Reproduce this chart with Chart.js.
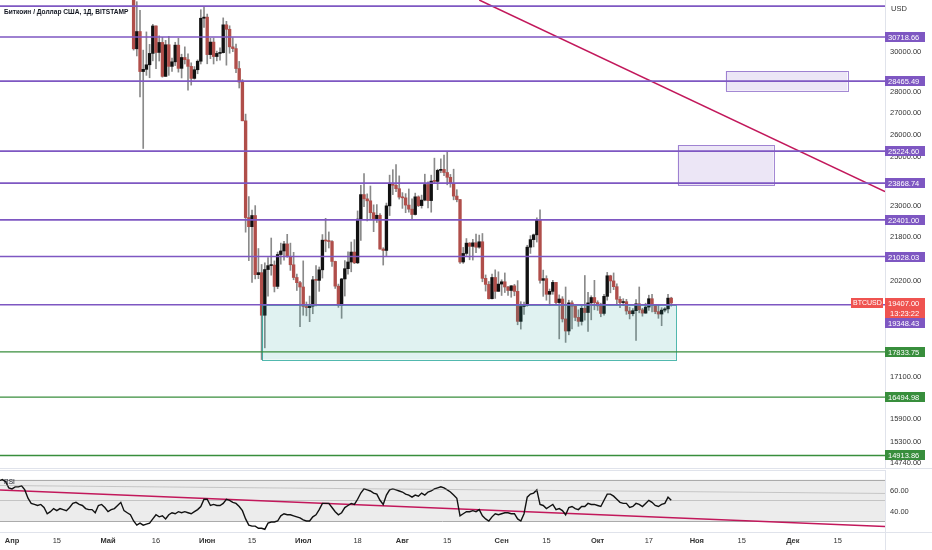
<!DOCTYPE html>
<html>
<head>
<meta charset="utf-8">
<script src="https://cdn.jsdelivr.net/npm/chart.js@4.4.0/dist/chart.umd.min.js"></script>
<style>
    html, body { margin: 0; padding: 0; background: #fff; width: 932px; height: 550px; overflow: hidden; }
    #wrap { position: relative; width: 932px; height: 550px; }
    canvas { position: absolute; left: 0; }
    #priceChart { top: 0; }
    #rsiChart { top: 470px; }
</style>
</head>
<body>
<div id="wrap">
    <canvas id="priceChart" width="932" height="469" style="width:932px;height:469px"></canvas>
    <canvas id="rsiChart" width="932" height="80" style="width:932px;height:80px"></canvas>
</div>
<script>
// Дни считаются от 1 апреля 2022 (день 0)
const title = 'Биткоин / Доллар США, 1Д, BITSTAMP';
const firstCandleDay = 38; // 9 мая

const opens = [
    34060,30100,31010,28940,29050,29280,29860,31310,29910,30430,
    28700,30310,29200,29430,30290,29100,29650,29540,29200,28600,
    29030,29460,31730,31790,29800,30450,29700,29860,29900,31370,
    31130,30200,30110,29090,28420,26580,22490,22140,22570,20380,
    20450,19000,20560,20700,20720,19970,21100,21230,21490,21030,
    20730,20280,20100,19950,19290,19250,19300,20200,20180,20550,
    21630,21600,21580,20850,19980,19330,20230,20590,20830,21190,
    20800,22430,23400,23230,23150,22680,22450,22580,21300,21250,
    22950,23850,23780,23640,23300,23270,22980,22820,22610,23310,
    22960,23180,23810,23160,23950,23940,24400,24440,24310,24110,
    23860,23340,23200,20830,21140,21520,21400,21530,21370,21570,
    20250,20040,19550,20280,19800,20050,20130,19950,19830,19990,
    19800,18800,19290,19320,21370,21650,21830,22400,20180,20240,
    19700,19800,20110,19420,19540,18880,18490,19410,19300,18930,
    18800,19230,19090,19410,19590,19420,19310,19060,19630,20340,
    20160,19960,19530,19420,19450,19140,19050,19150,19380,19180,
    19070,19270,19550,19330,19120,19040,19170,19210,19570
];
const highs = [
    34240,32650,32160,30030,30990,30330,31400,31320,30780,30700,
    30540,30750,29620,30440,30650,29820,30200,29840,29380,29190,
    29530,32200,32390,31960,30650,30660,29980,30150,31750,31560,
    31320,30680,30340,29450,28540,26890,23320,22780,22960,21320,
    20740,20800,20990,21710,20870,21190,21520,21590,21850,21520,
    21180,20400,20150,20870,19440,19640,20320,20700,20650,21840,
    22460,21940,21610,20860,20050,20250,20880,21200,21560,21650,
    22750,23780,24260,23430,23750,22990,23000,22650,21350,23060,
    24200,24430,24650,24170,23480,23440,23630,23230,23460,23350,
    23380,24240,23920,24200,24920,24450,24890,25050,25210,24230,
    24450,23600,23210,21360,21690,21540,21660,21860,21820,21880,
    20370,20140,20400,20550,20480,20200,20440,19970,20000,20040,
    20170,19450,19440,21440,21800,21860,22480,22790,20540,20340,
    19880,20180,20110,19680,19620,19950,19500,19480,19310,19180,
    19310,20350,19770,19650,20180,19480,19400,19700,20460,20360,
    20440,20060,19620,19550,19530,19270,19220,19520,19950,19230,
    19400,19670,19700,19340,19350,19250,19250,19700,19600
];
const lows = [
    30030,29730,27700,25340,28750,28630,29480,29090,29470,28660,
    28700,28750,28950,29240,28910,28620,29320,28020,28270,28560,
    28830,29320,31230,29330,29590,29320,29480,29520,29880,29260,
    29870,29950,28880,28130,26580,21930,20880,20110,20230,20240,
    17600,17960,19640,20360,19780,19890,20750,20900,21000,20530,
    20200,19830,18630,19000,18980,18790,19050,19310,19800,20260,
    21200,21340,20670,19900,19260,18900,19640,20400,20480,20770,
    20770,21620,22920,22360,22450,21950,22300,21300,20720,21060,
    22570,23400,23520,23220,22850,22680,22700,22430,22590,22920,
    22860,23150,22870,22700,23860,23600,24300,24180,23800,23700,
    23190,23110,20780,20780,21070,20910,20900,21170,21330,20130,
    19810,19540,19540,19560,19800,19660,19760,19660,19600,19650,
    18690,18550,19030,19300,21140,21380,21560,20080,19630,19500,
    19330,19700,19380,18240,18780,18130,18370,18560,18820,18640,
    18680,18840,18480,18850,19180,19160,18950,19000,19500,19750,
    19860,19340,19250,19320,19030,18880,18980,18190,19080,18970,
    19060,19160,19110,19050,18900,18660,19110,19080,19300
];
const closes = [
    30100,31010,28940,29050,29280,29860,31310,29910,30430,28700,
    30310,29200,29430,30290,29100,29650,29540,29200,28600,29030,
    29460,31730,31790,29800,30450,29700,29860,29900,31370,31130,
    30200,30110,29090,28420,26580,22490,22140,22570,20380,20450,
    19000,20560,20700,20720,19970,21100,21230,21490,21030,20730,
    20280,20100,19950,19290,19250,19300,20200,20180,20550,21630,
    21600,21580,20850,19980,19330,20230,20590,20830,21190,20800,
    22430,23400,23230,23150,22680,22450,22580,21300,21250,22950,
    23850,23780,23640,23300,23270,22980,22820,22610,23310,22960,
    23180,23810,23160,23950,23940,24400,24440,24310,24110,23860,
    23340,23200,20830,21140,21520,21400,21530,21370,21570,20250,
    20040,19550,20280,19800,20050,20130,19950,19830,19990,19800,
    18800,19290,19320,21370,21650,21830,22400,20180,20240,19700,
    19800,20110,19420,19540,18880,18490,19410,19300,18930,18800,
    19230,19090,19410,19590,19420,19310,19060,19630,20340,20160,
    19960,19530,19420,19450,19140,19050,19150,19380,19180,19070,
    19270,19550,19330,19120,19040,19170,19210,19570,19407
];

// RSI(14), с 28 марта (день -4)
const rsiFirstDay = -4;
const rsiValues = [
    69,70,68,62,
    61,63,63,64,60,52,47,46,45,46,
    43,37,39,42,40,42,41,40,43,47,
    48,46,45,42,41,41,38,45,46,43,
    39,41,42,45,48,40,38,36,30,26,
    28,26,27,28,32,36,34,35,32,36,
    38,37,39,38,39,38,37,39,41,44,
    51,51,45,46,45,45,47,51,50,48,
    47,44,40,32,26,25,25,23,23,22,
    28,29,29,30,35,37,36,36,35,34,
    33,31,30,30,34,36,41,47,47,47,
    43,39,36,38,43,45,47,46,51,57,
    61,60,59,57,56,50,46,55,60,61,
    60,59,58,56,55,53,55,54,57,55,
    58,59,61,62,63,62,60,58,55,52,
    35,37,39,39,40,39,41,35,32,30,
    34,37,36,37,38,38,37,37,32,30,
    37,53,56,57,60,46,45,42,44,46,
    41,42,40,36,43,44,42,41,44,44,
    47,46,46,45,44,50,56,56,54,51,
    48,47,47,43,44,47,46,44,47,50,
    48,45,44,46,47,53,50
];

const purpleLevels = [30718.66, 28465.49, 25224.60, 23868.74, 22401.00, 21028.03, 19348.43];
const topLevel = 32400; // линия без подписи у верхнего края
const greenLevels = [17833.75, 16494.98, 14913.86];
const priceTicks = [30000, 28000, 27000, 26000, 25000, 24000, 23000, 21800, 20200, 17100, 15900, 15300, 14740];
const lastPrice = 19407.00;
const lastTime = '13:23:22';

// прямоугольники: дни и цены
const boxDays = [[78, 207.5], [223, 261], [208, 238]];
const boxPrices = [[19348.43, 17600], [28966, 28000], [25480, 23786]];

// наклонные линии
const priceTrendDays = [146, 272.8];
const priceTrendValues = [32745, 23518];
const rsiTrendDays = [-3.75, 272.8];
const rsiTrendValues = [60, 24.7];
const rsiFaintValues = [64.3, 56.6];

const rsiBands = [70, 50, 30];
const rsiTicks = [60, 40];

const dateTicks = [0, 14, 30, 45, 61, 75, 91, 108, 122, 136, 153, 167, 183, 199, 214, 228, 244, 258];
const dateLabels = ['Апр', '15', 'Май', '16', 'Июн', '15', 'Июл', '18', 'Авг', '15', 'Сен', '15', 'Окт', '17', 'Ноя', '15', 'Дек', '15'];
const monthTicks = [0, 30, 61, 91, 122, 153, 183, 214, 244];

const xMin = -3.75, xMax = 272.8;
const AXIS_W = 47;
const FONT = '"Liberation Sans", Arial, sans-serif';
const PURPLE = '#7e57c2';
const GREEN = '#388e3c';
const RED_LINE = '#c2185b';

// Свечи
const candleDays = opens.map((o, i) => firstCandleDay + i);
const bodyColors = opens.map((o, i) => closes[i] >= o ? '#111' : '#b04e4a');

function labelBox(ctx, y, text, bg) {
    ctx.fillStyle = bg;
    ctx.fillRect(885, Math.round(y) - 5, 40, 10);
    ctx.fillStyle = '#fff';
    ctx.fillText(text, 888, Math.round(y) + 0.5);
}

const priceDrawings = {
    id: 'priceDrawings',
    afterDatasetsDraw(chart) {
        const { ctx, chartArea: a, scales: { x, y } } = chart;
        ctx.save();
        ctx.beginPath();
        ctx.rect(a.left, a.top, a.width, a.height);
        ctx.clip();

        boxDays.forEach((d, i) => {
            const x1 = x.getPixelForValue(d[0]), x2 = x.getPixelForValue(d[1]);
            const y1 = y.getPixelForValue(boxPrices[i][0]), y2 = y.getPixelForValue(boxPrices[i][1]);
            const teal = i === 0;
            ctx.fillStyle = teal ? 'rgba(38,166,154,0.14)' : 'rgba(126,87,194,0.15)';
            ctx.strokeStyle = teal ? 'rgba(38,166,154,0.8)' : 'rgba(126,87,194,0.7)';
            ctx.lineWidth = 1;
            ctx.fillRect(x1, y1, x2 - x1, y2 - y1);
            ctx.strokeRect(Math.round(x1) + 0.5, Math.round(y1) + 0.5, Math.round(x2 - x1), Math.round(y2 - y1));
        });

        ctx.lineWidth = 1.6;
        ctx.strokeStyle = PURPLE;
        [topLevel, ...purpleLevels].forEach(p => {
            const py = y.getPixelForValue(p);
            ctx.beginPath(); ctx.moveTo(a.left, py); ctx.lineTo(a.right, py); ctx.stroke();
        });
        ctx.lineWidth = 1.3;
        ctx.strokeStyle = GREEN;
        greenLevels.forEach(p => {
            const py = y.getPixelForValue(p);
            ctx.beginPath(); ctx.moveTo(a.left, py); ctx.lineTo(a.right, py); ctx.stroke();
        });
        ctx.restore();
    },
    afterDraw(chart) {
        const { ctx, chartArea: a, scales: { y } } = chart;
        ctx.save();
        // разделитель шкалы цен
        ctx.strokeStyle = '#e0e3eb';
        ctx.lineWidth = 1;
        ctx.beginPath(); ctx.moveTo(a.right + 0.5, 0); ctx.lineTo(a.right + 0.5, chart.height); ctx.stroke();
        ctx.beginPath(); ctx.moveTo(0, chart.height - 0.5); ctx.lineTo(chart.width, chart.height - 0.5); ctx.stroke();

        ctx.font = '7.5px ' + FONT;
        ctx.textBaseline = 'middle';
        ctx.textAlign = 'left';
        ctx.fillStyle = '#333';
        priceTicks.forEach(t => ctx.fillText(t.toFixed(2), 890, Math.round(y.getPixelForValue(t)) + 0.5));
        ctx.fillText('USD', 891, 9);

        purpleLevels.forEach(p => {
            if (p === purpleLevels[purpleLevels.length - 1]) return;
            labelBox(ctx, y.getPixelForValue(p), p.toFixed(2), PURPLE);
        });
        greenLevels.forEach(p => labelBox(ctx, y.getPixelForValue(p), p.toFixed(2), GREEN));

        // текущая цена
        const py = Math.round(y.getPixelForValue(lastPrice));
        ctx.fillStyle = '#ef5350';
        ctx.fillRect(885, py - 5, 40, 20);
        ctx.fillRect(851, py - 5, 32, 10);
        ctx.fillStyle = '#fff';
        ctx.fillText(lastPrice.toFixed(2), 888, py + 0.5);
        ctx.fillText(lastTime, 890, py + 10.5);
        ctx.font = '7px ' + FONT;
        ctx.fillText('BTCUSD', 853, py + 0.5);
        ctx.font = '7.5px ' + FONT;
        // подпись уровня под ценой
        const low = purpleLevels[purpleLevels.length - 1];
        labelBox(ctx, py + 20, low.toFixed(2), PURPLE);

        ctx.font = 'bold 6.6px ' + FONT;
        ctx.fillStyle = '#131722';
        ctx.fillText(title, 4, 12);
        ctx.restore();
    }
};

new Chart(document.getElementById('priceChart').getContext('2d'), {
    type: 'bar',
    data: {
        datasets: [{
            type: 'line',
            data: priceTrendDays.map((d, i) => ({ x: d, y: priceTrendValues[i] })),
            borderColor: RED_LINE,
            borderWidth: 1.5,
            pointRadius: 0,
            order: 0
        }, {
            data: candleDays.map((d, i) => ({ x: d, y: [lows[i], highs[i]] })),
            backgroundColor: '#8a8a8a',
            barThickness: 1,
            grouped: false,
            order: 2
        }, {
            data: candleDays.map((d, i) => ({ x: d, y: [opens[i], closes[i]] })),
            backgroundColor: bodyColors,
            barThickness: 2.7,
            minBarLength: 1,
            grouped: false,
            order: 1
        }]
    },
    options: {
        responsive: false,
        animation: false,
        layout: { padding: { top: 0, right: AXIS_W, bottom: 0, left: 0 } },
        plugins: { legend: { display: false }, tooltip: { enabled: false } },
        scales: {
            x: { type: 'linear', min: xMin, max: xMax, offset: false, display: false },
            y: { type: 'logarithmic', min: 14570, max: 32745, display: false }
        }
    },
    plugins: [priceDrawings]
});

const rsiDrawings = {
    id: 'rsiDrawings',
    beforeDatasetsDraw(chart) {
        const { ctx, chartArea: a, scales: { y } } = chart;
        ctx.save();
        const y70 = y.getPixelForValue(rsiBands[0]), y30 = y.getPixelForValue(rsiBands[2]);
        ctx.fillStyle = '#ececec';
        ctx.fillRect(a.left, y70, a.width, y30 - y70);
        ctx.lineWidth = 1;
        rsiBands.forEach((b, i) => {
            const py = Math.round(y.getPixelForValue(b)) + 0.5;
            ctx.strokeStyle = i === 1 ? '#c4c4c4' : '#ababab';
            ctx.beginPath(); ctx.moveTo(a.left, py); ctx.lineTo(a.right, py); ctx.stroke();
        });
        ctx.restore();
    },
    afterDraw(chart) {
        const { ctx, chartArea: a, scales: { y } } = chart;
        ctx.save();
        ctx.strokeStyle = '#e0e3eb';
        ctx.lineWidth = 1;
        ctx.beginPath(); ctx.moveTo(a.right + 0.5, 0); ctx.lineTo(a.right + 0.5, chart.height); ctx.stroke();
        ctx.beginPath(); ctx.moveTo(0, 0.5); ctx.lineTo(a.right, 0.5); ctx.stroke();
        ctx.beginPath(); ctx.moveTo(0, a.bottom + 0.5); ctx.lineTo(chart.width, a.bottom + 0.5); ctx.stroke();
        ctx.font = '7.5px ' + FONT;
        ctx.textBaseline = 'middle';
        ctx.fillStyle = '#333';
        rsiTicks.forEach(t => ctx.fillText(t.toFixed(2), 890, Math.round(y.getPixelForValue(t)) + 0.5));
        ctx.font = '6.5px ' + FONT;
        ctx.fillStyle = '#131722';
        ctx.fillText('RSI', 4, 12);
        ctx.restore();
    }
};

new Chart(document.getElementById('rsiChart').getContext('2d'), {
    type: 'line',
    data: {
        datasets: [{
            data: rsiTrendDays.map((d, i) => ({ x: d, y: rsiFaintValues[i] })),
            borderColor: 'rgba(150,150,150,0.45)',
            borderWidth: 1,
            pointRadius: 0
        }, {
            data: rsiValues.map((v, i) => ({ x: rsiFirstDay + i, y: v })),
            borderColor: '#111',
            borderWidth: 1.4,
            pointRadius: 0,
            tension: 0
        }, {
            data: rsiTrendDays.map((d, i) => ({ x: d, y: rsiTrendValues[i] })),
            borderColor: RED_LINE,
            borderWidth: 1.5,
            pointRadius: 0
        }]
    },
    options: {
        responsive: false,
        animation: false,
        layout: { padding: { top: 1, right: AXIS_W, bottom: 0, left: 0 } },
        plugins: { legend: { display: false }, tooltip: { enabled: false } },
        scales: {
            x: {
                type: 'linear', min: xMin, max: xMax, offset: false,
                afterBuildTicks: s => { s.ticks = dateTicks.map(v => ({ value: v })); },
                afterFit: s => { s.height = 18; },
                grid: { display: false, drawTicks: false },
                border: { display: false },
                ticks: {
                    autoSkip: false, maxRotation: 0, padding: 4, color: '#333',
                    font: c => ({ family: FONT, size: 7.5, weight: monthTicks.includes(c.tick && c.tick.value) ? 'bold' : 'normal' }),
                    callback: v => dateLabels[dateTicks.indexOf(v)]
                }
            },
            y: { type: 'linear', min: 19.37, max: 78.3, display: false }
        }
    },
    plugins: [rsiDrawings]
});
</script>
</body>
</html>
